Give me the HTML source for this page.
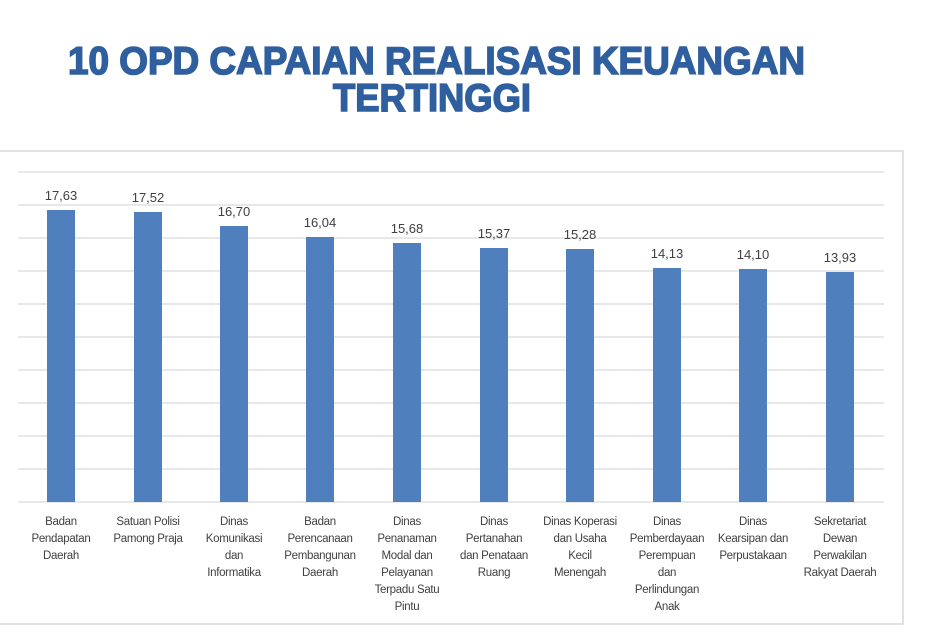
<!DOCTYPE html>
<html><head><meta charset="utf-8"><style>
html,body{margin:0;padding:0;background:#fff;}
svg{display:block;}
</style></head><body>
<svg width="932" height="636" viewBox="0 0 932 636" xmlns="http://www.w3.org/2000/svg" font-family="Liberation Sans, sans-serif">
<rect width="932" height="636" fill="#fff"/>
<text x="68" y="74" font-size="39" font-weight="bold" fill="#2f5f9e" stroke="#2f5f9e" stroke-width="1.6" textLength="737" lengthAdjust="spacingAndGlyphs">10 OPD CAPAIAN REALISASI KEUANGAN</text>
<text x="333" y="111" font-size="39" font-weight="bold" fill="#2f5f9e" stroke="#2f5f9e" stroke-width="1.6" textLength="198" lengthAdjust="spacingAndGlyphs">TERTINGGI</text>
<rect x="-2" y="151" width="905" height="473" fill="#fff" stroke="#d9d9d9" stroke-width="1.5"/>
<g stroke="#d9d9d9" stroke-width="1.3">
<line x1="18" x2="884" y1="172" y2="172"/><line x1="18" x2="884" y1="205" y2="205"/>
<line x1="18" x2="884" y1="238" y2="238"/><line x1="18" x2="884" y1="271" y2="271"/>
<line x1="18" x2="884" y1="304" y2="304"/><line x1="18" x2="884" y1="337" y2="337"/>
<line x1="18" x2="884" y1="370" y2="370"/><line x1="18" x2="884" y1="403" y2="403"/>
<line x1="18" x2="884" y1="436" y2="436"/><line x1="18" x2="884" y1="469" y2="469"/>
<line x1="18" x2="884" y1="502" y2="502"/>
</g>
<g fill="#4f7fbd">
<rect x="47" y="210" width="28" height="292"/>
<rect x="134" y="212" width="28" height="290"/>
<rect x="220" y="226" width="28" height="276"/>
<rect x="306" y="237" width="28" height="265"/>
<rect x="393" y="243" width="28" height="259"/>
<rect x="480" y="248" width="28" height="254"/>
<rect x="566" y="249" width="28" height="253"/>
<rect x="653" y="268" width="28" height="234"/>
<rect x="739" y="269" width="28" height="233"/>
<rect x="826" y="272" width="28" height="230"/>
</g>
<g font-size="13" fill="#404040" text-anchor="middle">
<text x="61" y="200">17,63</text><text x="148" y="202">17,52</text>
<text x="234" y="216">16,70</text><text x="320" y="227">16,04</text>
<text x="407" y="233">15,68</text><text x="494" y="238">15,37</text>
<text x="580" y="239">15,28</text><text x="667" y="258">14,13</text>
<text x="753" y="259">14,10</text><text x="840" y="262">13,93</text>
</g>
<g font-size="11.5" fill="#404040" text-anchor="middle" letter-spacing="-0.3">
<text x="61" y="525">Badan</text><text x="61" y="542">Pendapatan</text><text x="61" y="559">Daerah</text>
<text x="148" y="525">Satuan Polisi</text><text x="148" y="542">Pamong Praja</text>
<text x="234" y="525">Dinas</text><text x="234" y="542">Komunikasi</text><text x="234" y="559">dan</text><text x="234" y="576">Informatika</text>
<text x="320" y="525">Badan</text><text x="320" y="542">Perencanaan</text><text x="320" y="559">Pembangunan</text><text x="320" y="576">Daerah</text>
<text x="407" y="525">Dinas</text><text x="407" y="542">Penanaman</text><text x="407" y="559">Modal dan</text><text x="407" y="576">Pelayanan</text><text x="407" y="593">Terpadu Satu</text><text x="407" y="610">Pintu</text>
<text x="494" y="525">Dinas</text><text x="494" y="542">Pertanahan</text><text x="494" y="559">dan Penataan</text><text x="494" y="576">Ruang</text>
<text x="580" y="525">Dinas Koperasi</text><text x="580" y="542">dan Usaha</text><text x="580" y="559">Kecil</text><text x="580" y="576">Menengah</text>
<text x="667" y="525">Dinas</text><text x="667" y="542">Pemberdayaan</text><text x="667" y="559">Perempuan</text><text x="667" y="576">dan</text><text x="667" y="593">Perlindungan</text><text x="667" y="610">Anak</text>
<text x="753" y="525">Dinas</text><text x="753" y="542">Kearsipan dan</text><text x="753" y="559">Perpustakaan</text>
<text x="840" y="525">Sekretariat</text><text x="840" y="542">Dewan</text><text x="840" y="559">Perwakilan</text><text x="840" y="576">Rakyat Daerah</text>
</g>
</svg>
</body></html>
